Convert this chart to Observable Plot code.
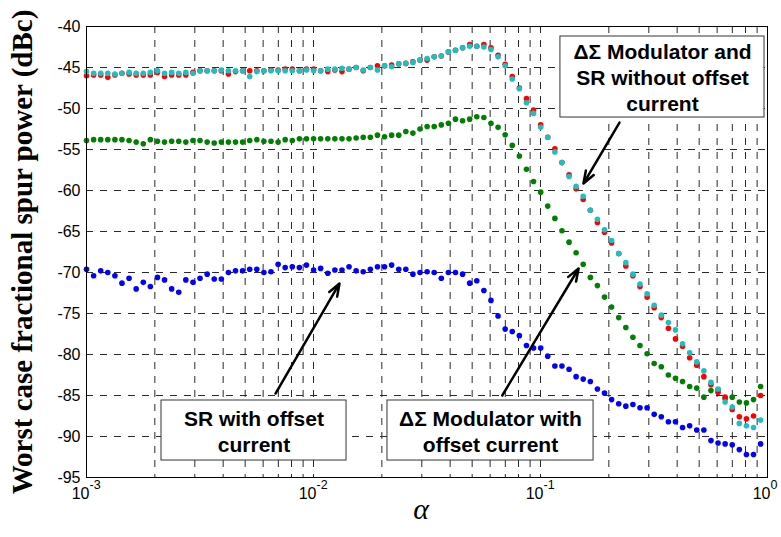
<!DOCTYPE html>
<html><head><meta charset="utf-8">
<script src="https://cdn.jsdelivr.net/npm/d3@7"></script>
<script src="https://cdn.jsdelivr.net/npm/@observablehq/plot@0.6"></script>
<style>body{margin:0;background:#fff;} #chart{width:781px;height:537px;}</style>
</head><body><div id="chart"></div>
<script>
const alpha = [0.001000,0.001075,0.001155,0.001241,0.001334,0.001433,0.001540,0.001655,0.001779,0.001911,
0.002054,0.002207,0.002372,0.002549,0.002739,0.002944,0.003163,0.003400,0.003653,0.003926,
0.004219,0.004534,0.004872,0.005236,0.005626,0.006046,0.006498,0.006983,0.007504,0.008064,
0.008666,0.009312,
0.01001,0.01075,0.01156,0.01242,0.01335,0.01434,0.01541,0.01656,0.01780,0.01913,
0.02056,0.02209,0.02374,0.02551,0.02741,0.02946,0.03166,0.03402,0.03656,0.03929,
0.04222,0.04537,0.04876,0.05240,0.05631,0.06051,0.06502,0.06988,0.07509,0.08070,
0.08672,0.09319,
0.1002,0.1076,0.1157,0.1243,0.1336,0.1435,0.1542,0.1658,0.1781,0.1914,
0.2057,0.2211,0.2376,0.2553,0.2743,0.2948,0.3168,0.3405,0.3659,0.3932,
0.4225,0.4540,0.4879,0.5244,0.5635,0.6055,0.6507,0.6993,0.7515,0.8076,
0.8679,0.9326];

// ΔΣ modulator and SR without offset current (red)
const dsmNoOffset = [-46.0,-45.9,-45.9,-46.2,-45.9,-45.7,-45.8,-45.9,-45.9,-45.9,
-45.6,-46.1,-45.9,-45.9,-45.9,-45.6,-45.4,-45.4,-45.4,-45.4,
-45.8,-45.5,-45.4,-45.4,-45.4,-45.4,-45.3,-45.3,-45.2,-45.2,
-45.4,-45.2,-45.2,-45.4,-45.5,-45.3,-45.5,-45.2,-45.0,-45.4,
-45.0,-44.8,-44.8,-44.7,-44.55,-44.5,-44.3,-44.1,-44.1,-43.7,
-43.6,-43.1,-42.9,-42.6,-42.2,-42.4,-42.2,-42.6,-43.5,-44.6,
-46.1,-47.5,-48.8,-50.2,-52.0,-53.5,-54.9,-56.6,-58.1,-59.8,
-61.1,-62.4,-63.9,-65.1,-66.4,-67.7,-69.2,-70.4,-71.7,-73.0,
-74.3,-75.5,-76.8,-78.1,-79.0,-80.4,-81.3,-82.7,-83.7,-84.6,
-85.2,-86.7,-87.6,-87.85,-87.5,-85.0];

// SR without offset current (cyan)
const srNoOffset = [-45.5,-45.7,-45.7,-45.7,-45.8,-45.7,-45.6,-45.7,-45.7,-45.6,
-45.4,-45.7,-45.6,-45.7,-45.6,-45.7,-45.4,-45.4,-45.4,-45.3,
-45.4,-45.4,-45.4,-46.1,-45.5,-45.4,-45.4,-45.4,-45.4,-45.4,
-45.4,-45.3,-45.4,-45.4,-45.2,-45.2,-45.1,-45.2,-45.0,-45.3,
-45.0,-45.3,-44.8,-44.9,-44.55,-44.5,-44.4,-44.1,-43.9,-43.7,
-43.6,-43.1,-42.9,-42.6,-42.4,-42.4,-42.5,-42.8,-43.7,-44.8,
-46.4,-47.6,-49.3,-50.6,-52.3,-53.5,-55.3,-56.6,-58.3,-59.5,
-60.7,-62.4,-63.5,-64.8,-66.1,-67.7,-68.8,-70.2,-71.4,-72.6,
-74.0,-75.2,-76.1,-77.0,-78.7,-79.8,-80.9,-82.0,-83.4,-84.2,
-85.8,-86.4,-88.4,-88.7,-88.9,-88.0];

// ΔΣ modulator with offset current (green)
const dsmOffset = [-53.9,-53.8,-53.8,-53.8,-53.8,-53.8,-53.9,-54.1,-54.3,-53.8,
-54.0,-54.1,-54.0,-54.0,-54.1,-53.9,-53.9,-54.1,-54.2,-54.1,
-54.1,-54.1,-54.1,-53.9,-53.8,-54.0,-54.0,-54.1,-53.8,-53.9,
-53.7,-53.7,-53.7,-53.7,-53.7,-53.7,-53.7,-53.7,-53.6,-53.5,
-53.5,-53.25,-53.45,-53.25,-53.25,-52.8,-53.0,-52.5,-52.2,-52.2,
-52.0,-51.8,-51.3,-51.5,-51.3,-51.0,-51.1,-51.8,-52.3,-53.2,
-54.5,-55.8,-57.4,-58.9,-60.2,-61.9,-63.4,-64.9,-66.3,-67.6,
-69.0,-70.6,-71.6,-73.0,-74.2,-75.5,-76.7,-77.9,-78.9,-79.9,
-81.1,-81.5,-82.5,-82.9,-83.3,-83.9,-84.1,-85.2,-84.4,-84.3,
-85.4,-85.2,-85.8,-85.9,-85.5,-83.9];

// SR with offset current (blue)
const srOffset = [-69.6,-70.4,-69.8,-70.0,-70.4,-71.3,-70.7,-72.0,-71.2,-71.7,
-70.6,-70.9,-72.0,-72.4,-70.9,-71.2,-70.7,-70.2,-70.8,-70.8,
-70.0,-69.8,-69.8,-69.6,-69.6,-70.0,-69.9,-69.0,-69.4,-69.3,
-69.4,-69.1,-69.7,-69.5,-70.1,-69.7,-69.7,-69.3,-69.8,-69.9,
-69.6,-69.3,-69.3,-69.1,-69.6,-69.6,-70.2,-70.0,-69.9,-70.0,
-70.7,-70.0,-70.0,-70.2,-71.3,-71.0,-72.2,-73.4,-75.3,-76.9,
-77.2,-77.7,-78.9,-79.2,-79.2,-80.2,-81.4,-81.4,-81.8,-82.7,
-83.0,-83.3,-84.2,-84.7,-85.5,-86.0,-86.3,-86.1,-86.5,-86.5,
-87.3,-87.6,-88.2,-88.2,-88.9,-88.7,-89.2,-89.2,-90.5,-90.8,
-90.9,-91.0,-91.6,-92.2,-92.2,-90.9];

const yTicks = [-95,-90,-85,-80,-75,-70,-65,-60,-55,-50,-45,-40];
const xGrid = [0.001,0.002,0.003,0.004,0.005,0.006,0.007,0.008,0.009,
  0.01,0.02,0.03,0.04,0.05,0.06,0.07,0.08,0.09,
  0.1,0.2,0.3,0.4,0.5,0.6,0.7,0.8,0.9,1];
const decades = [0.001,0.01,0.1,1];
const exponents = ["-3","-2","-1","0"];

const boxes = [
  {x1:0.1224, x2:0.970, y1:-41.22, y2:-51.10, tx:0.3447, ty:-46.1, text:"ΔΣ Modulator and\nSR without offset\ncurrent"},
  {x1:0.002140, x2:0.01398, y1:-85.61, y2:-92.93, tx:0.005467, ty:-89.27, text:"SR with offset\ncurrent"},
  {x1:0.02118, x2:0.1713, y1:-85.61, y2:-92.93, tx:0.06021, ty:-89.27, text:"ΔΣ Modulator with\noffset current"}
];
const arrows = [
  {x1:0.2228, y1:-51.71, x2:0.1546, y2:-59.15},
  {x1:0.006802, y1:-84.76, x2:0.01302, y2:-71.34},
  {x1:0.06784, y1:-85.0, x2:0.1472, y2:-69.51}
];

const rows = (vals) => alpha.map((a, i) => ({alpha: a, v: vals[i]}));
const tickLabels = decades.map((d, i) => ({d, e: exponents[i]}));

const grid = {stroke: "#2a2a2a", strokeWidth: 1, strokeDasharray: "7,7"};
const textFont = "Liberation Sans, Arial, sans-serif";
const serif = "Liberation Serif, Times New Roman, serif";

const chart = Plot.plot({
  width: 781, height: 537,
  marginLeft: 86, marginRight: 14, marginTop: 26, marginBottom: 60,
  style: {fontFamily: textFont, color: "#000", background: "#fff"},
  x: {type: "log", domain: [0.001, 1], axis: null},
  y: {domain: [-95, -40]},
  marks: [
    Plot.ruleY(yTicks, grid),
    Plot.ruleX(xGrid, grid),
    Plot.dot(rows(srOffset), {x: "alpha", y: "v", r: 2.8, fill: "#0000ff"}),
    Plot.dot(rows(dsmOffset), {x: "alpha", y: "v", r: 2.8, fill: "#008000"}),
    Plot.dot(rows(dsmNoOffset), {x: "alpha", y: "v", r: 2.8, fill: "#ff0000"}),
    Plot.dot(rows(srNoOffset), {x: "alpha", y: "v", r: 2.8, fill: "#1fbfbf"}),
    Plot.frame({stroke: "#000", strokeWidth: 1}),
    Plot.axisY(yTicks, {tickSize: 0, tickPadding: 6, fontSize: 16, tickFormat: d => String(d), label: null}),
    Plot.text(tickLabels, {x: "d", text: () => "10", frameAnchor: "bottom", textAnchor: "end", dx: 3, dy: 21, fontSize: 16}),
    Plot.text(tickLabels, {x: "d", text: "e", frameAnchor: "bottom", textAnchor: "start", dx: 3, dy: 11, fontSize: 12.5}),
    Plot.text(["Worst case fractional spur power (dBc)"], {text: d => d, frameAnchor: "left", textAnchor: "middle", rotate: -90, dx: -64, fontSize: 29, fontWeight: "bold", fontFamily: serif}),
    Plot.text(["α"], {text: d => d, frameAnchor: "bottom", dy: 41, dx: -6, fontSize: 30, fontStyle: "italic", fontFamily: serif}),
    Plot.arrow(arrows, {x1: "x1", y1: "y1", x2: "x2", y2: "y2", stroke: "#000", strokeWidth: 2.5, headAngle: 40, headLength: 8}),
    Plot.rect(boxes, {x1: "x1", x2: "x2", y1: "y1", y2: "y2", fill: "#fff", stroke: "#333", strokeWidth: 1}),
    Plot.text(boxes, {x: "tx", y: "ty", text: "text", fontSize: 21, fontWeight: "bold", lineHeight: 1.24, fill: "#000"})
  ]
});
document.getElementById("chart").appendChild(chart);
</script>
</body></html>
